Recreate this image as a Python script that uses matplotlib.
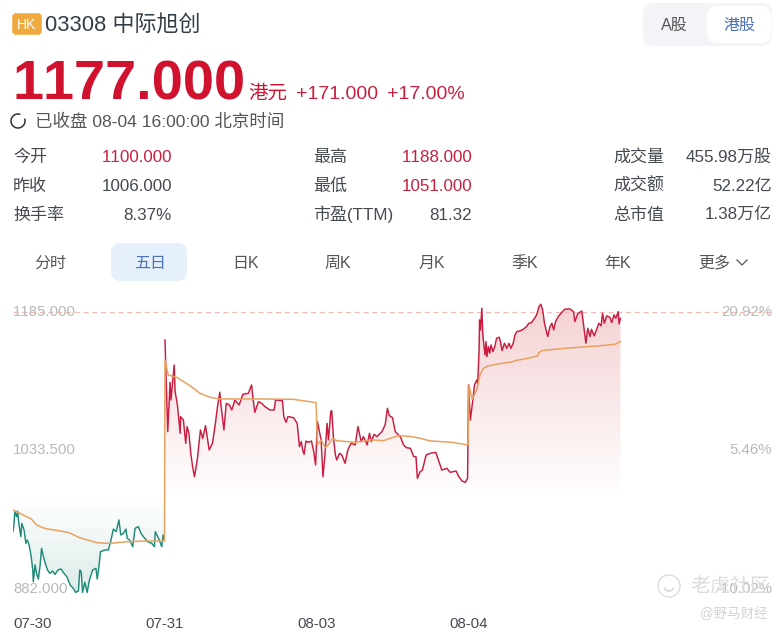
import matplotlib
matplotlib.use('Agg')
import matplotlib.pyplot as plt
import numpy as np
from matplotlib.patches import FancyBboxPatch, Circle, Arc

plt.rcParams['font.family'] = ['Liberation Sans', 'Noto Sans CJK SC']
plt.rcParams['text.kerning_factor'] = 6

# minutes since 07-30 open (330 per session), price in HKD
t_down = [0, 2, 4, 8, 10, 13, 17, 19, 24, 28, 31, 35, 39, 43, 44, 48, 51, 55, 59, 62, 66, 70, 75, 80, 86, 91, 98,
          104, 109, 117, 124, 131, 136, 142, 145, 148, 151, 156, 161, 166, 173, 180, 183, 187, 190, 200, 207, 212,
          218, 224, 230, 234, 240, 245, 248, 253, 260, 265, 272, 278, 283, 292, 301, 307, 309, 316, 323, 326, 329]
p_down = [945, 952, 966.6, 961.1, 967.3, 952, 939.3, 953.8, 946.5, 932, 935.6, 930.1, 919.2, 902.8, 890, 908.3,
          899.1, 892.9, 908.3, 926.5, 917.4, 910.1, 902.8, 899.1, 901.7, 898, 902.8, 903.9, 900.2, 895.5, 886.4,
          882.7, 878.3, 879.8, 902.8, 901, 878.3, 889.3, 878.3, 891.8, 902.8, 904.6, 892.9, 908.3, 922.8, 924.7,
          924.7, 933.8, 947.6, 944.7, 957.5, 941.1, 942.9, 947.6, 937.4, 935.6, 928.3, 948.4, 950.2, 942.9, 939.3,
          933.8, 932, 928.3, 944.7, 937.4, 928.3, 941.1, 935.6]

t_up = [330, 336, 341, 343, 350, 352, 357, 363, 364, 370, 375, 378, 382, 386, 390, 394, 400, 407, 412, 418, 426,
        433, 439, 444, 449, 452, 458, 463, 470, 475, 482, 491, 499, 511, 518, 522, 525, 533, 540, 547, 558, 567,
        570, 585, 588, 593, 597, 609, 617, 622, 626, 629, 632, 636, 641, 648, 653, 657,
        661, 669, 673, 677, 682, 685, 690, 692, 696, 700, 703, 709, 714, 721, 727, 734, 743, 749, 756, 761, 769,
        774, 778, 784, 790, 801, 808, 813, 817, 824, 830, 841, 848, 854, 863, 870, 875, 878, 884, 889, 897, 906,
        918, 926, 931, 942, 949, 962, 968, 975, 982, 987,
        989, 993, 998, 1002, 1007, 1009, 1012, 1013, 1015, 1018, 1020, 1022, 1025, 1027, 1029, 1032, 1035, 1038,
        1042, 1046, 1050, 1056, 1059, 1062, 1067, 1072, 1077, 1081, 1086, 1090, 1094, 1101, 1108, 1115, 1120, 1126,
        1132, 1137, 1142, 1146, 1150, 1154, 1161, 1166, 1170, 1174, 1178, 1184, 1191, 1198, 1209, 1217, 1220, 1226,
        1235, 1238, 1242, 1244, 1248, 1253, 1256, 1262, 1268, 1272, 1277, 1280, 1284, 1289, 1296, 1300, 1305, 1309,
        1314, 1316, 1319]
p_up = [1154.3, 1054, 1108, 1088.7, 1127, 1097.8, 1083.2, 1052.2, 1070.5, 1066.8, 1041.3, 1059.5, 1052.2, 1030.3,
        1015.7, 1004.8, 1023, 1055.9, 1046.7, 1060.6, 1034, 1041.3, 1061.3, 1081.4, 1097.1, 1081.4, 1055.9, 1085,
        1083.2, 1077.8, 1088.7, 1083.2, 1094.9, 1096, 1105.1, 1086.9, 1075.2, 1086.9, 1085, 1081.4, 1077.8, 1077.8,
        1088.7, 1088, 1070.5, 1064.3, 1070.5, 1069.4, 1063.2, 1037.6, 1043.1, 1034, 1029.2, 1043.8, 1042.4, 1043.8,
        1032.1, 1017.6,
        1065, 1045, 1004.8, 1026.7, 1063.2, 1045, 1076, 1077, 1046.8, 1028.6, 1023.1, 1030.4, 1028.6, 1019.4, 1034,
        1041.3, 1039.5, 1059.6, 1043.1, 1048.6, 1039.5, 1052.3, 1043.1, 1051.2, 1048.6, 1054, 1061.4, 1079.6, 1071.6,
        1069.4, 1054, 1048.6, 1039.5, 1036.6, 1035.8, 1026.7, 1026.7, 1003, 1010.3, 1012.1, 1028.6, 1030.4, 1031.5,
        1019.4, 1012.1, 1014, 1009.6, 1011, 1004.8, 1000.1, 998.6, 1003,
        1105.1, 1066.8, 1086.9, 1105.1, 1110.6, 1106.9, 1143.4, 1176.2, 1165.3, 1189, 1161.6, 1150.7, 1137.9, 1152.5,
        1136.1, 1147, 1139.8, 1148.9, 1141.6, 1147, 1156.2, 1157.3, 1150.7, 1142.7, 1150.7, 1145.2, 1150.7, 1145.2,
        1150.7, 1159.8, 1163.5, 1164.2, 1166, 1168.9, 1172.6, 1173.3, 1178, 1181.7, 1190.8, 1193.4, 1187.2, 1172.6,
        1158, 1168.9, 1172.6, 1165.3, 1174.4, 1179.9, 1184.2, 1187.9, 1188.3, 1185.3, 1174.4, 1182.8, 1186, 1174.4,
        1159.8, 1150.7, 1167.1, 1158, 1166, 1158.7, 1167.1, 1172.6, 1169.7, 1183.5, 1172.6, 1180.6, 1179.1, 1173.3,
        1181.7, 1178, 1185.3, 1171.8, 1178]

t_avg = [0, 15, 40, 51, 69, 120, 145, 182, 210, 247, 290, 329,
         330, 337, 355, 384, 406, 428, 449, 536, 609, 658,
         661, 669, 678, 685, 694, 703, 743, 779, 805, 823, 839, 866, 884, 906, 953, 988,
         990, 997, 1007, 1014, 1021, 1032, 1054, 1086, 1090, 1119, 1139, 1142, 1149, 1198, 1271, 1307, 1319]
p_avg = [968.4, 964.7, 958.5, 952, 948.3, 943.9, 938.1, 932.6, 931.9, 933.7, 934.5, 934.5,
         1132.4, 1116, 1113.5, 1104.4, 1096, 1091.6, 1089.8, 1089.8, 1089.4, 1085.8,
         1040, 1045, 1036.6, 1040, 1046.8, 1044.2, 1042.4, 1045, 1044.2, 1047.5, 1049.7, 1048.6, 1046.8, 1043.9,
         1042.4, 1039.5,
         1105, 1089.4, 1099.6, 1116, 1123.3, 1125.9, 1128.1, 1130.6, 1131.7, 1134.3, 1136.8, 1140.5, 1142.7, 1145.2,
         1147.8, 1149.6, 1152.5]

base_price = 980
day_ticks = [0, 330, 660, 990]
day_labels = ['07-30', '07-31', '08-03', '08-04']
y_labels = [1185, 1033.5, 882]
pct_labels = ['20.92%', '5.46%', '-10.02%']

title_code = '03308 中际旭创'
price_now = '1177.000'
status_text = '已收盘 08-04 16:00:00 北京时间'
quote_rows = [
    [('今开', '1100.000', True), ('最高', '1188.000', True), ('成交量', '455.98万股', False)],
    [('昨收', '1006.000', False), ('最低', '1051.000', True), ('成交额', '52.22亿', False)],
    [('换手率', '8.37%', False), ('市盈(TTM)', '81.32', False), ('总市值', '1.38万亿', False)],
]
tab_names = ['分时', '五日', '日K', '周K', '月K', '季K', '年K', '更多']

RED = '#d0122f'
BLUE = '#4a72b8'
DARK = '#444a50'
GRAY = '#b9b9b9'


def px(size):
    return size * 0.72


fig = plt.figure(figsize=(7.82, 6.32), dpi=100)
bg = fig.add_axes([0, 0, 1, 1])
bg.set_xlim(0, 782)
bg.set_ylim(632, 0)
bg.axis('off')

# header
bg.add_patch(FancyBboxPatch((15, 16), 24, 16, boxstyle='round,pad=0,rounding_size=1', fc='#f0a93f', ec='#f0a93f', lw=4))
bg.text(27, 29, 'HK', color='white', fontsize=px(14), ha='center', va='baseline')
bg.text(45, 31, title_code, color='#333d47', fontsize=px(22), va='baseline')
bg.text(12, 100, price_now, color=RED, fontsize=px(56), fontweight='bold', va='baseline')
bg.text(248, 99, '港元', color=RED, fontsize=px(19.5), va='baseline')
bg.text(296, 99, '+171.000', color='#c8203f', fontsize=px(19.5), va='baseline')
bg.text(387, 99, '+17.00%', color='#c8203f', fontsize=px(19.5), va='baseline')
bg.add_patch(Arc((18, 121), 14, 14, theta1=-20, theta2=290, color='#333333', lw=1.1))
bg.text(35, 127, status_text, color='#555555', fontsize=px(17.5), va='baseline')

# quote table
for row, y in zip(quote_rows, [162, 191, 220]):
    for (label, value, is_red), x0, x1 in zip(row, [13, 313, 613], [172, 472, 772]):
        bg.text(x0, y, label, color=DARK, fontsize=px(17), va='baseline')
        bg.text(x1, y, value, color='#c8203f' if is_red else DARK, fontsize=px(17), va='baseline', ha='right')

# tabs
bg.add_patch(FancyBboxPatch((121, 253), 56, 18, boxstyle='round,pad=10', fc='#e6effc', ec='none'))
for name, x in zip(tab_names, [50, 150, 246, 338, 432, 525, 618, 714]):
    bg.text(x, 268, name, color=BLUE if name == '五日' else '#555555', fontsize=px(16), ha='center', va='baseline')
bg.plot([737, 742, 747], [260, 265, 260], color='#555555', lw=0.9)

# A / HK switch
bg.add_patch(FancyBboxPatch((653, 13), 109, 23, boxstyle='round,pad=10', fc='#f2f4f8', ec='none'))
bg.add_patch(FancyBboxPatch((717, 16), 44, 17, boxstyle='round,pad=10', fc='white', ec='none'))
bg.text(674, 30, 'A股', color='#555555', fontsize=px(16), ha='center', va='baseline')
bg.text(739, 30, '港股', color=BLUE, fontsize=px(16), ha='center', va='baseline')

# chart area: x 13..772 px, y 300..600 px
ax = fig.add_axes([13 / 782, 1 - 600 / 632, 759 / 782, 300 / 632], zorder=1)
ax.patch.set_alpha(0)
for s in ax.spines.values():
    s.set_visible(False)

t_red = np.array(t_up)
p_red = np.array(p_up)
t_green = np.array(t_down)
p_green = np.array(p_down)

xmax = 1648
ymin, ymax = 870, 1198

# gradients clipped between the line and the base price
red_img = np.zeros((256, 2, 4))
red_img[..., :3] = np.array([205, 40, 50]) / 255
red_img[..., 3] = np.linspace(0.22, 0, 256)[:, None]
im = ax.imshow(red_img, extent=(330, 1320, base_price, ymax), aspect='auto', origin='upper', zorder=1)
poly = ax.fill_between(t_red, p_red, base_price, color='none', lw=0)
im.set_clip_path(poly.get_paths()[0], transform=ax.transData)

green_img = np.zeros((256, 2, 4))
green_img[..., :3] = np.array([26, 130, 115]) / 255
green_img[..., 3] = np.linspace(0, 0.17, 256)[:, None]
im2 = ax.imshow(green_img, extent=(0, 330, ymin, base_price), aspect='auto', origin='upper', zorder=1)
poly2 = ax.fill_between(t_green, p_green, base_price, color='none', lw=0)
im2.set_clip_path(poly2.get_paths()[0], transform=ax.transData)

ax.axhline(y_labels[0], color='#f2bcb4', lw=0.9, ls=(0, (4, 3)), zorder=2)
ax.plot(t_green, p_green, color='#1f8a78', lw=1.05, zorder=3)
ax.plot(t_red, p_red, color='#c91c40', lw=1.05, zorder=3)
ax.plot(t_avg, p_avg, color='#e8a25e', lw=1.1, zorder=4)

ax.set_xlim(0, xmax)
ax.set_ylim(ymin, ymax)
ax.set_yticks([])
ax.set_xticks(day_ticks, day_labels)
ax.tick_params(axis='x', length=0, pad=12, labelsize=px(15), labelcolor=DARK)
ax.get_xticklabels()[0].set_ha('left')

for v, pct in zip(y_labels, pct_labels):
    ax.text(0, v, f'{v:.3f}', color=GRAY, fontsize=px(15), va='center', ha='left', zorder=5)
    ax.text(1, v, pct, color=GRAY, fontsize=px(15), va='center', ha='right', zorder=5,
            transform=ax.get_yaxis_transform())

# watermark on top of everything
wm = fig.add_axes([0, 0, 1, 1], zorder=2)
wm.set_xlim(0, 782)
wm.set_ylim(632, 0)
wm.axis('off')
wm.add_patch(Circle((669, 586), 11, fc=(1, 1, 1, 0.7), ec='#dddddd', lw=1))
wm.add_patch(Arc((669, 586), 10, 10, theta1=20, theta2=160, color='#d8d8d8', lw=1.2))
wm.text(690, 592, '老虎社区', color='#dcdcdc', fontsize=px(20), va='baseline')
wm.text(700, 618, '@野马财经', color='#d4d4d4', fontsize=px(13.5), va='baseline')

fig.savefig('out.png', dpi=100)
